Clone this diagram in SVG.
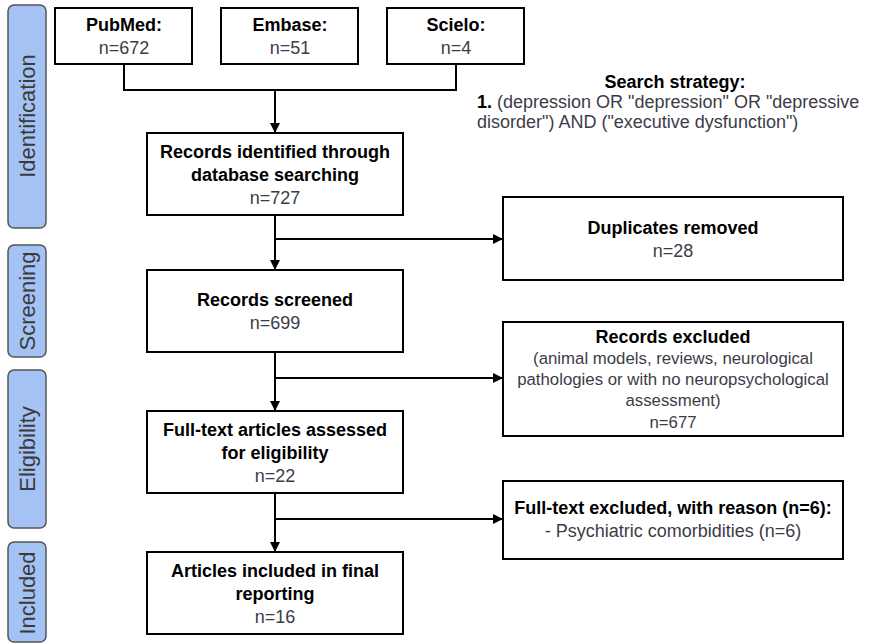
<svg xmlns="http://www.w3.org/2000/svg" width="871" height="643" viewBox="0 0 871 643">
<style>
.bg{fill:#ffffff}
.phase{fill:#a4c2f4;stroke:#555;stroke-width:1.5}
.ph{font-family:"Liberation Sans",Arial,sans-serif;font-size:22px;fill:#3a3a3a;text-anchor:middle}
.box{fill:#fff;stroke:#000;stroke-width:2}
.t{font-family:"Liberation Sans",Arial,sans-serif;font-size:18px;text-anchor:middle}
.s{font-size:16.8px}
.b{font-weight:bold;fill:#000}
.n{fill:#3c3c48}
.ln{fill:none;stroke:#000;stroke-width:2}
</style>
<defs>
<marker id="ah" viewBox="0 0 10 10" refX="10" refY="5" markerWidth="5" markerHeight="5" orient="auto" markerUnits="strokeWidth">
<path d="M0,0 L10,5 L0,10 z" fill="#000"/>
</marker>
</defs>
<rect class="bg" x="0" y="0" width="871" height="643"/>
<g id="phase-identification"><rect class="phase" x="8" y="5" width="38" height="223" rx="6"/><text class="ph" transform="translate(35,116) rotate(-90)">Identification</text></g>
<g id="phase-screening"><rect class="phase" x="8" y="245" width="38" height="112" rx="6"/><text class="ph" transform="translate(35,301) rotate(-90)">Screening</text></g>
<g id="phase-eligibility"><rect class="phase" x="8" y="370" width="38" height="158" rx="6"/><text class="ph" transform="translate(35,449) rotate(-90)">Eligibility</text></g>
<g id="phase-included"><rect class="phase" x="8" y="542" width="38" height="100" rx="6"/><text class="ph" transform="translate(35,593) rotate(-90)">Included</text></g>

<g id="connectors">
<path class="ln" d="M124,64 V90 H456 V64"/>
<path class="ln" d="M275,90 V133" marker-end="url(#ah)"/>
<path class="ln" d="M275,215 V270" marker-end="url(#ah)"/>
<path class="ln" d="M275,239 H503" marker-end="url(#ah)"/>
<path class="ln" d="M275,352 V411" marker-end="url(#ah)"/>
<path class="ln" d="M275,378 H503" marker-end="url(#ah)"/>
<path class="ln" d="M275,493 V552" marker-end="url(#ah)"/>
<path class="ln" d="M275,519 H503" marker-end="url(#ah)"/>
</g>

<g id="pubmed"><rect class="box" x="55" y="8" width="137" height="56"/><text class="t b" x="124" y="31">PubMed:</text><text class="t n" x="124" y="54">n=672</text></g>
<g id="embase"><rect class="box" x="221" y="8" width="137" height="56"/><text class="t b" x="290" y="31">Embase:</text><text class="t n" x="290" y="54">n=51</text></g>
<g id="scielo"><rect class="box" x="387" y="8" width="137" height="56"/><text class="t b" x="456" y="31">Scielo:</text><text class="t n" x="456" y="54">n=4</text></g>

<g id="search-strategy">
<text class="t b" x="675" y="88">Search strategy:</text>
<text class="t n" x="477" y="108" style="text-anchor:start"><tspan font-weight="bold" fill="#000">1.</tspan> (depression OR "depression" OR "depressive</text>
<text class="t n" x="477" y="128" style="text-anchor:start">disorder") AND ("executive dysfunction")</text>
</g>

<g id="records-identified"><rect class="box" x="147" y="133" width="256" height="82"/><text class="t b" x="275" y="158">Records identified through</text><text class="t b" x="275" y="181">database searching</text><text class="t n" x="275" y="204">n=727</text></g>
<g id="duplicates"><rect class="box" x="503" y="197" width="340" height="83"/><text class="t b" x="673" y="234">Duplicates removed</text><text class="t n" x="673" y="257">n=28</text></g>
<g id="records-screened"><rect class="box" x="147" y="270" width="256" height="82"/><text class="t b" x="275" y="306">Records screened</text><text class="t n" x="275" y="329">n=699</text></g>
<g id="records-excluded"><rect class="box" x="503" y="322" width="340" height="114"/><text class="t b" x="673" y="343">Records excluded</text><text class="t n s" x="673" y="364">(animal models, reviews, neurological</text><text class="t n s" x="673" y="385">pathologies or with no neuropsychological</text><text class="t n s" x="673" y="406">assessment)</text><text class="t n s" x="673" y="428">n=677</text></g>
<g id="fulltext-assessed"><rect class="box" x="147" y="411" width="256" height="82"/><text class="t b" x="275" y="436">Full-text articles assessed</text><text class="t b" x="275" y="459">for eligibility</text><text class="t n" x="275" y="482">n=22</text></g>
<g id="fulltext-excluded"><rect class="box" x="503" y="481" width="340" height="78"/><text class="t b" x="673" y="514">Full-text excluded, with reason (n=6):</text><text class="t n" x="673" y="537">- Psychiatric comorbidities (n=6)</text></g>
<g id="included"><rect class="box" x="147" y="552" width="256" height="82"/><text class="t b" x="275" y="577">Articles included in final</text><text class="t b" x="275" y="600">reporting</text><text class="t n" x="275" y="623">n=16</text></g>
</svg>
